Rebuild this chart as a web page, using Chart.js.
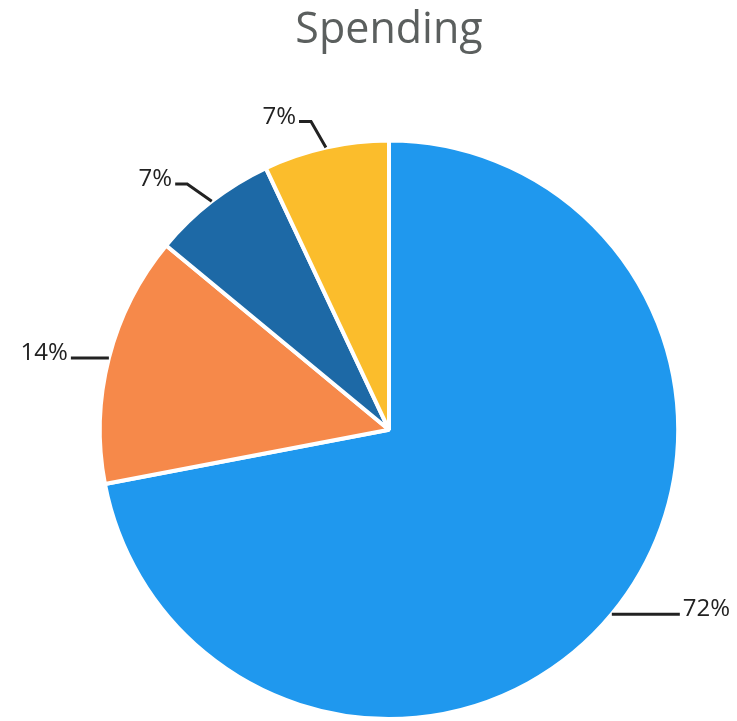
<!DOCTYPE html>
<html>
<head>
<meta charset="utf-8">
<title>Spending</title>
<script src="https://cdn.jsdelivr.net/npm/chart.js@4.4.1/dist/chart.umd.min.js"></script>
<style>
  html, body { margin: 0; padding: 0; background: #fff; }
  #wrap { width: 737px; height: 721px; }
</style>
</head>
<body>
<div id="wrap"><canvas id="spendingChart" width="737" height="721"></canvas></div>
<script>
// Spending pie - slices go clockwise from 12 o'clock
const categories = ['Category 1', 'Category 2', 'Category 3', 'Category 4'];
const spendValues = [72, 14, 7, 7];
const sliceColors = ['#1f98ee', '#f6894a', '#1d69a6', '#fbbd2c'];

// draws "xx%" outside each slice with a leader line
const outsideLabels = {
    id: 'outsideLabels',
    afterDatasetsDraw(chart, args, opts) {
        const ctx = chart.ctx;
        const meta = chart.getDatasetMeta(0);
        const total = spendValues.reduce((a, b) => a + b, 0);
        ctx.save();
        ctx.strokeStyle = opts.color;
        ctx.fillStyle = opts.color;
        ctx.lineWidth = 3;
        ctx.font = opts.font;
        meta.data.forEach((arc, i) => {
            const { x, y, startAngle, endAngle, outerRadius } = arc.getProps(['x', 'y', 'startAngle', 'endAngle', 'outerRadius'], true);
            const mid = (startAngle + endAngle) / 2;
            const cos = Math.cos(mid), sin = Math.sin(mid);
            const sx = x + cos * outerRadius, sy = y + sin * outerRadius;
            const dir = cos >= 0 ? 1 : -1;
            const text = Math.round(spendValues[i] / total * 100) + '%';
            ctx.beginPath();
            ctx.moveTo(sx, sy);
            let ex, ey;
            if (Math.abs(sin) > 0.7) {
                // lean the elbow towards the side the text sits on
                const a = mid + dir * 0.3;
                const ox = sx + Math.cos(a) * opts.elbow, oy = sy + Math.sin(a) * opts.elbow;
                ctx.lineTo(ox, oy);
                ex = ox + dir * opts.tail; ey = oy;
            } else {
                ex = sx + dir * opts.leader[i]; ey = sy;
            }
            ctx.lineTo(ex, ey);
            ctx.stroke();
            ctx.textAlign = dir > 0 ? 'left' : 'right';
            ctx.textBaseline = 'alphabetic';
            ctx.fillText(text, ex + dir * 3, ey + 2);
        });
        ctx.restore();
    }
};

new Chart(document.getElementById('spendingChart'), {
    type: 'pie',
    data: {
        labels: categories,
        datasets: [{
            data: spendValues,
            backgroundColor: sliceColors,
            borderColor: '#ffffff',
            borderWidth: 4,
            hoverOffset: 0
        }]
    },
    options: {
        responsive: false,
        animation: false,
        layout: { padding: { left: 60, right: 19, top: 0, bottom: -4 } },
        plugins: {
            legend: { display: false },
            tooltip: { enabled: false },
            title: {
                display: true,
                text: 'Spending',
                color: '#5b5f5e',
                font: { family: 'Open Sans', size: 43, weight: 'normal' },
                padding: { top: 5, bottom: 82 }
            },
            outsideLabels: {
                color: '#222222',
                font: '24px "Open Sans"',
                leader: [68, 38, 0, 0],
                elbow: 30,
                tail: 12
            }
        }
    },
    plugins: [outsideLabels]
});
</script>
</body>
</html>
